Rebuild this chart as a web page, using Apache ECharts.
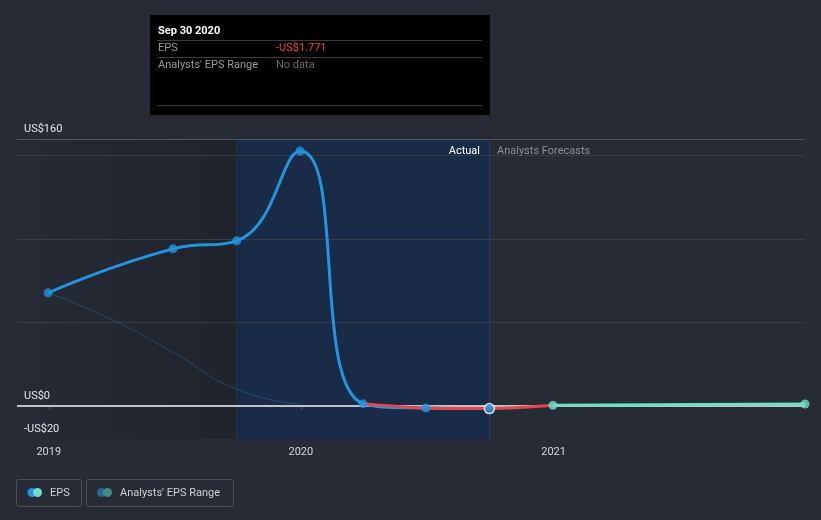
<!DOCTYPE html>
<html>
<head>
<meta charset="utf-8">
<script src="https://cdn.jsdelivr.net/npm/echarts@6/dist/echarts.min.js"></script>
<style>
html,body{margin:0;padding:0;background:#262b36;}
#c{width:821px;height:520px;}
</style>
</head>
<body>
<div id="c"></div>
<script>
// ---- data ----
const epsDates = ['2018-12-31','2019-06-30','2019-09-30','2019-12-31','2020-03-31','2020-06-30','2020-09-30'];
const epsValues = [67.7, 94.1, 98.9, 152.8, 1.2, -1.4, -1.771];
const negDates = ['2020-03-31','2020-06-30','2020-09-30','2020-12-31'];
const negValues = [1.2, -1.4, -1.771, 0.2];
const forecastDates = ['2020-12-31','2021-12-31'];
const forecastValues = [0.2, 1.0];
const rangeDates = ['2018-12-31','2019-03-31','2019-06-30','2019-09-30','2019-12-31'];
const rangeValues = [67.7, 52, 32, 10, 1.0];
const gridValues = [50, 100, 150];
const yLabelValues = [160, 0, -20];
const xMin = '2018-11-16';
const xMax = '2021-12-31';
const pastEnd = '2019-09-30';
const actualEnd = '2020-09-30';
const tooltipDate = 'Sep 30 2020';
const tooltipEps = '-US$1.771';

const zip = (d, v) => d.map((x, i) => [x, v[i]]);
const fmt = v => (v < 0 ? '-US$' : 'US$') + Math.abs(v);
const FONT = 'Roboto, "Noto Sans", sans-serif';

const chart = echarts.init(document.getElementById('c'), null, {renderer: 'canvas'});
const lastIdx = epsDates.length - 1;

chart.setOption({
  backgroundColor: '#262b36',
  animation: false,
  textStyle: {fontFamily: FONT},
  grid: {left: 17, right: 16, top: 139, bottom: 81, containLabel: false},
  xAxis: {
    type: 'time',
    min: xMin,
    max: xMax,
    minInterval: 365 * 24 * 3600 * 1000,
    maxInterval: 366 * 24 * 3600 * 1000,
    axisLine: {show: true, lineStyle: {color: '#4b505b', width: 1}},
    axisTick: {show: true, length: 4, lineStyle: {color: '#5a5f6a'}},
    axisLabel: {
      color: '#d4d6da', fontSize: 11, margin: 8, fontFamily: FONT,
      formatter: v => String(new Date(v).getFullYear())
    },
    splitLine: {show: false}
  },
  yAxis: {
    type: 'value',
    min: -20,
    max: 160,
    interval: 10,
    axisLine: {show: false},
    axisTick: {show: false},
    splitLine: {show: false},
    axisLabel: {
      inside: true, margin: 7, color: '#e2e4e8', fontSize: 11, fontFamily: FONT,
      verticalAlign: 'bottom', padding: [0, 0, 4, 0],
      formatter: v => yLabelValues.includes(v) ? fmt(v) : ''
    }
  },
  series: [
    {
      // background regions + grid lines
      type: 'line', data: [], silent: true, z: 0,
      markArea: {
        silent: true, z: 0,
        data: [
          [{xAxis: xMin, itemStyle: {color: {type: 'linear', x: 0, y: 0, x2: 1, y2: 0,
            colorStops: [{offset: 0, color: 'rgba(0,0,0,0.02)'}, {offset: 1, color: 'rgba(0,0,0,0.18)'}]}}},
           {xAxis: pastEnd}],
          [{xAxis: pastEnd, itemStyle: {color: '#192b47'}}, {xAxis: actualEnd}]
        ]
      },
      markLine: {
        silent: true, symbol: 'none', label: {show: false}, z: 1,
        data: [
          ...gridValues.map(v => ({yAxis: v, lineStyle: {color: '#373c47', width: 1, type: 'solid'}})),
          {yAxis: 160, lineStyle: {color: '#4f545f', width: 1, type: 'solid'}},
          {xAxis: pastEnd, lineStyle: {color: '#20324f', width: 1, type: 'solid'}},
          {xAxis: actualEnd, lineStyle: {color: '#24416c', width: 1, type: 'solid'}},
          {yAxis: 0, lineStyle: {color: '#bfc2c7', width: 2, type: 'solid'}}
        ]
      }
    },
    {
      name: 'range', type: 'line', data: zip(rangeDates, rangeValues), smooth: 0.6,
      showSymbol: false, silent: true, z: 1,
      lineStyle: {color: '#2a5d90', width: 1, opacity: 0.6}
    },
    {
      name: 'EPS', type: 'line', data: zip(epsDates, epsValues), smooth: 0.5,
      showSymbol: false, z: 2,
      lineStyle: {color: '#2394e0', width: 3}
    },
    {
      name: 'negative', type: 'line', data: zip(negDates, negValues), smooth: 0.3,
      showSymbol: false, z: 3,
      lineStyle: {color: '#e4474d', width: 3}
    },
    {
      name: 'forecast', type: 'line', data: zip(forecastDates, forecastValues),
      showSymbol: false, z: 3,
      lineStyle: {color: '#6de0c8', width: 3}
    },
    {
      name: 'EPS points', type: 'scatter', z: 4, symbolSize: 9,
      data: zip(epsDates, epsValues).map((p, i) => i === lastIdx
        ? {value: p, symbolSize: 10, itemStyle: {color: '#2394e0', borderColor: '#ffffff', borderWidth: 1.5}}
        : {value: p}),
      itemStyle: {color: '#2394e0'}
    },
    {
      name: 'forecast points', type: 'scatter', z: 4, symbolSize: 9,
      data: zip(forecastDates, forecastValues),
      itemStyle: {color: '#6de0c8'}
    }
  ],
  graphic: [
    // region labels
    {type: 'text', x: 480, y: 151.5, z: 10, style: {text: 'Actual', fill: '#ffffff', font: '11px ' + FONT, textAlign: 'right', textVerticalAlign: 'middle'}},
    {type: 'text', x: 497, y: 151.5, z: 10, style: {text: 'Analysts Forecasts', fill: '#8b8f97', font: '11px ' + FONT, textAlign: 'left', textVerticalAlign: 'middle'}},
    // tooltip box
    {type: 'rect', shape: {x: 150, y: 15, width: 340, height: 100}, z: 20, style: {fill: '#000000'}},
    {type: 'text', x: 158, y: 31, z: 21, style: {text: tooltipDate, fill: '#ffffff', font: 'bold 11px ' + FONT, textAlign: 'left', textVerticalAlign: 'middle'}},
    {type: 'line', shape: {x1: 157, y1: 40.5, x2: 482, y2: 40.5}, z: 21, style: {stroke: '#3b3b3b', lineWidth: 1}},
    {type: 'text', x: 158, y: 48, z: 21, style: {text: 'EPS', fill: '#9a9a9a', font: '11px ' + FONT, textAlign: 'left', textVerticalAlign: 'middle'}},
    {type: 'text', x: 276, y: 48, z: 21, style: {text: tooltipEps, fill: '#ec4040', font: '11px ' + FONT, textAlign: 'left', textVerticalAlign: 'middle'}},
    {type: 'line', shape: {x1: 157, y1: 57.5, x2: 482, y2: 57.5}, z: 21, style: {stroke: '#3b3b3b', lineWidth: 1}},
    {type: 'text', x: 158, y: 65.5, z: 21, style: {text: "Analysts' EPS Range", fill: '#9a9a9a', font: '11px ' + FONT, textAlign: 'left', textVerticalAlign: 'middle'}},
    {type: 'text', x: 276, y: 65.5, z: 21, style: {text: 'No data', fill: '#6a6a6a', font: '11px ' + FONT, textAlign: 'left', textVerticalAlign: 'middle'}},
    {type: 'line', shape: {x1: 157, y1: 105.5, x2: 482, y2: 105.5}, z: 21, style: {stroke: '#3b3b3b', lineWidth: 1}},
    // legend
    {type: 'rect', shape: {x: 16.5, y: 479.5, width: 65, height: 27, r: 2}, z: 10, style: {fill: 'transparent', stroke: '#4a4f5a', lineWidth: 1}},
    {type: 'circle', shape: {cx: 32, cy: 492.5, r: 4.5}, z: 11, style: {fill: '#2394e0'}},
    {type: 'circle', shape: {cx: 37.5, cy: 492.5, r: 4.5}, z: 12, style: {fill: '#6de0c8'}},
    {type: 'text', x: 50, y: 493, z: 11, style: {text: 'EPS', fill: '#d0d2d6', font: '11px ' + FONT, textAlign: 'left', textVerticalAlign: 'middle'}},
    {type: 'rect', shape: {x: 86.5, y: 479.5, width: 147, height: 27, r: 2}, z: 10, style: {fill: 'transparent', stroke: '#4a4f5a', lineWidth: 1}},
    {type: 'circle', shape: {cx: 101.5, cy: 492.5, r: 4.5}, z: 11, style: {fill: '#2a6597'}},
    {type: 'circle', shape: {cx: 107.5, cy: 492.5, r: 4.5}, z: 12, style: {fill: '#3e8b86'}},
    {type: 'text', x: 120, y: 493, z: 11, style: {text: "Analysts' EPS Range", fill: '#d0d2d6', font: '11px ' + FONT, textAlign: 'left', textVerticalAlign: 'middle'}}
  ]
});
</script>
</body>
</html>
